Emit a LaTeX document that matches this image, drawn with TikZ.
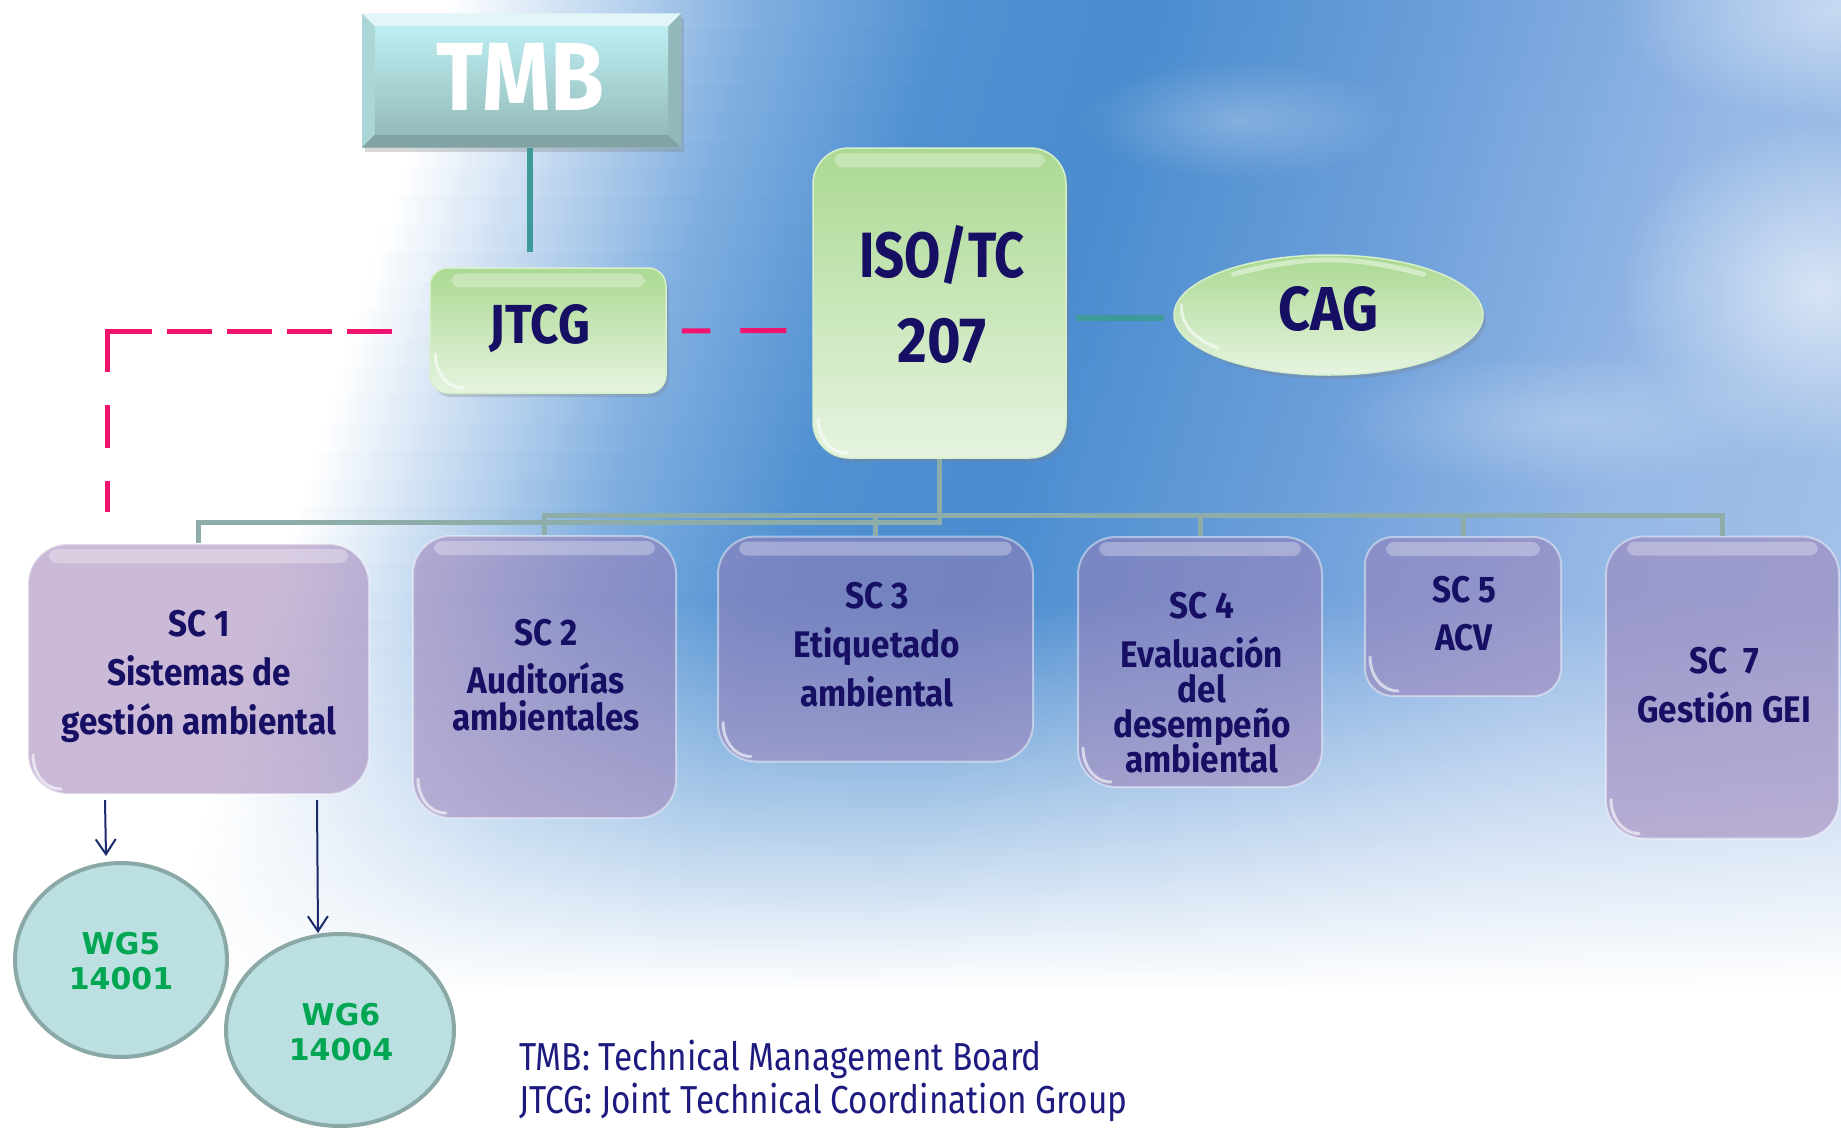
\documentclass[tikz,border=0pt]{standalone}
\usepackage{fontspec}
\newfontfamily\hfont[FakeStretch=0.9]{Fira Sans}
\newfontfamily\hfontn[FakeStretch=0.82]{Fira Sans}
\newfontfamily\lfont[FakeStretch=0.855]{Fira Sans}
\newfontfamily\wfont{DejaVu Sans}
\usetikzlibrary{shapes.geometric,arrows.meta,shadows,fadings,calc}

\definecolor{navy}{HTML}{170F63}
\definecolor{skyA}{HTML}{C4D9F0}
\definecolor{skyB}{HTML}{80AFE0}
\definecolor{skyC}{HTML}{5191D2}
\definecolor{skyD}{HTML}{4A8CCF}
\definecolor{skyE}{HTML}{6C9FDA}
\definecolor{skyF}{HTML}{94B7E5}
\definecolor{skyG}{HTML}{B5CCEC}
\definecolor{gTop}{HTML}{ABD992}
\definecolor{gBot}{HTML}{E6F4E0}
\definecolor{gLine}{HTML}{D8EFCC}
\definecolor{scfill}{HTML}{9A7BB4}
\definecolor{treeC}{HTML}{8EADA8}
\definecolor{tealC}{HTML}{3E999A}
\definecolor{pinkC}{HTML}{F2136E}
\definecolor{arrC}{HTML}{1B2A6B}
\definecolor{wgFill}{HTML}{BCE0E2}
\definecolor{wgLine}{HTML}{8AA8A6}
\definecolor{wgText}{HTML}{00A651}
\definecolor{legC}{HTML}{1E1B80}
\definecolor{tmbTop}{HTML}{BDEEF2}
\definecolor{tmbBot}{HTML}{95BBBB}
\definecolor{bevT}{HTML}{E2F6F7}
\definecolor{bevL}{HTML}{ACD5D7}
\definecolor{bevR}{HTML}{93B8B9}
\definecolor{bevB}{HTML}{83A2A3}

\pgfdeclarehorizontalshading{skyh}{100bp}{color(0bp)=(white); color(36.3bp)=(white); color(39.3bp)=(skyA); color(42.6bp)=(skyB); color(46.5bp)=(skyC); color(50.6bp)=(skyD); color(56.8bp)=(skyE); color(62.9bp)=(skyF); color(75bp)=(skyG); color(100bp)=(skyG)}
\tikzfading[name=fadebot, top color=transparent!100, bottom color=transparent!0]
\tikzfading[name=blob, inner color=transparent!15, outer color=transparent!100]

\newcommand{\stk}[2]{\parbox[t]{#1}{\centering\lineskiplimit=-60pt #2}}

\tikzset{
  hd/.style={inner sep=0pt, anchor=base, text=navy, font=\hfont\bfseries\fontsize{#1}{#1}\selectfont},
  sclbl/.style={inner sep=0pt, anchor=base, text=navy, font=\hfont\bfseries\fontsize{37}{#1}\selectfont},
  greenbox/.style={draw=gLine, line width=1.5pt, top color=gTop, bottom color=gBot, inner sep=0pt,
     drop shadow={shadow xshift=3pt, shadow yshift=-4pt, opacity=0.3}},
  scbox/.style={fill=scfill, fill opacity=0.52, draw=white, draw opacity=0.45, line width=2pt, inner sep=0pt},
  tree/.style={draw=treeC, line width=5pt},
  tealline/.style={draw=tealC, line width=5.5pt},
  pinkd/.style={draw=pinkC, line width=5pt},
  arr/.style={draw=arrC, line width=2pt, -{Straight Barb[length=15pt, width=20pt]}},
  wg/.style={ellipse, draw=wgLine, line width=4pt, fill=wgFill, inner sep=0pt},
  wgl/.style={inner sep=0pt, anchor=base, text=wgText, font=\wfont\bfseries\fontsize{30}{35}\selectfont},
  gloss/.style={draw=white, opacity=0.6, line width=3pt, line cap=round},
  hilite/.style={fill=white, opacity=0.3, rounded corners=8pt}
}

\begin{document}
\begin{tikzpicture}[x=1pt, y=-1pt]
\useasboundingbox (0,0) rectangle (1841,1127);

% ---------- background sky ----------
\begin{scope}
\clip (0,0) rectangle (1841,1127);
\fill[white] (0,0) rectangle (1841,1127);
\foreach \i in {0,...,39}{
  \pgfmathsetmacro\yy{\i*28.2}
  \pgfmathsetmacro\ss{0.3*(\yy+14)}
  \shade[shading=skyh] ({-100-\ss},\yy) rectangle ({2341-\ss},{\yy+29.5});
}
\fill[white, path fading=blob, fill opacity=0.7] (1820,290) ellipse (200 and 170);
\fill[white, path fading=blob, fill opacity=0.55] (1841,10) ellipse (230 and 110);
\fill[white, path fading=blob, fill opacity=0.3] (1560,420) ellipse (230 and 70);
\fill[white, path fading=blob, fill opacity=0.3] (1240,120) ellipse (160 and 60);
\fill[white, path fading=fadebot] (-40,600) rectangle (1881,990);
\fill[white] (-40,988) rectangle (1881,1160);
\end{scope}

% ---------- boxes ----------
\node[rectangle, minimum width=319pt, minimum height=134pt, fill=bevL, inner sep=0pt,
      drop shadow={shadow xshift=3pt, shadow yshift=-4pt, opacity=0.3}] (tmb) at (521.5,80.5) {};
\fill[bevT] (tmb.north west) -- (tmb.north east) -- ($(tmb.north east)+(-13,13)$) -- ($(tmb.north west)+(13,13)$) -- cycle;
\fill[bevB] (tmb.south west) -- (tmb.south east) -- ($(tmb.south east)+(-13,-13)$) -- ($(tmb.south west)+(13,-13)$) -- cycle;
\fill[bevR] (tmb.north east) -- ($(tmb.north east)+(-13,13)$) -- ($(tmb.south east)+(-13,-13)$) -- (tmb.south east) -- cycle;
\shade[top color=tmbTop, bottom color=tmbBot] ($(tmb.north west)+(13,13)$) rectangle ($(tmb.south east)+(-13,-13)$);

\node[greenbox, rounded corners=18pt, minimum width=236pt, minimum height=125pt] (jtcg) at (548,330.5) {};
\node[greenbox, rounded corners=36pt, minimum width=253pt, minimum height=310pt] (iso) at (939.5,303) {};
\node[greenbox, ellipse, minimum width=309pt, minimum height=120pt] (cag) at (1328.5,315) {};

\node[scbox, rounded corners=40pt, minimum width=341pt, minimum height=250pt] (sc1) at (198.5,669) {};
\node[scbox, rounded corners=38pt, minimum width=263pt, minimum height=282pt] (sc2) at (544.5,677) {};
\node[scbox, rounded corners=38pt, minimum width=315pt, minimum height=225pt] (sc3) at (875.5,649) {};
\node[scbox, rounded corners=38pt, minimum width=244pt, minimum height=250pt] (sc4) at (1200,662) {};
\node[scbox, rounded corners=28pt, minimum width=196pt, minimum height=159pt] (sc5) at (1463,616.5) {};
\node[scbox, rounded corners=38pt, minimum width=233pt, minimum height=302pt] (sc7) at (1722.5,687.5) {};

\foreach \n in {jtcg,iso,sc1,sc2,sc3,sc4,sc5,sc7}{
  \fill[hilite] ($(\n.north west)+(22,6)$) rectangle ($(\n.north east)+(-22,20)$);
  \draw[gloss] ($(\n.south west)+(6,-40)$) to[out=-90,in=180] ($(\n.south west)+(34,-6)$);
}
\draw[gloss] ($(cag.west)+(8,-10)$) to[out=-90,in=160] ($(cag.west)+(45,33)$);
\draw[draw=white, opacity=0.45, line width=5pt, line cap=round] ($(cag.north)+(-95,20)$) to[out=15,in=165] ($(cag.north)+(95,20)$);

\node[wg, minimum width=212pt, minimum height=194pt] (wg5) at (121,960) {};
\node[wg, minimum width=228pt, minimum height=192pt] (wg6) at (340,1030) {};

% ---------- connectors ----------
\draw[tealline] ([xshift=8.5pt]tmb.south) -- ([xshift=-18pt,yshift=15pt]jtcg.north);
\draw[tealline] ($(iso.east |- cag.west)+(9,3)$) -- ($(cag.west)+(-9,3)$);

\coordinate (pk) at (107,331);
\coordinate (pkend) at (107,512);
\draw[pinkd, dash pattern=on 45pt off 15pt] ($(jtcg.west)+(-37,0.5)$) -- (pk);
\draw[pinkd, dash pattern=on 43pt off 33pt] ($(pk)+(0,-2.5)$) -- (pkend);
\draw[pinkd, dash pattern=on 46pt off 30pt] ($(iso.west)+(-26,27.5)$) -- ($(jtcg.east)+(15,0.5)$);

\draw[tree] (iso.south) -- ++(0,64) -| (sc1.north);
\foreach \n in {sc2,sc3,sc4,sc5,sc7}{
  \draw[tree] (iso.south) -- ++(0,57) -| (\n.north);
}

\draw[arr] ($(sc1.south west)+(78,5)$) -- ($(wg5.north)+(-15,-5)$);
\draw[arr] ($(sc1.south west)+(290,5)$) -- ($(wg6.north)+(-22,1)$);

% ---------- texts ----------
\node[hd=97, text=white] (tmbt) at (520.5,110) {TMB};
\node[hd=55] (jtcgt) at (540,343) {JTCG};
\node[inner sep=0pt, anchor=base, text=navy, font=\hfont\bfseries\fontsize{64}{85}\selectfont] (isot) at (942,277) {\stk{240pt}{{\hfontn ISO/TC}\\207}};
\node[hd=62] (cagt) at (1328.5,330) {CAG};

\node[sclbl=49] (sc1t) at (199,636) {\stk{330pt}{SC 1\\Sistemas de\\gestión ambiental}};
\node[sclbl=37] (sc2t) at (546,645) {\stk{250pt}{SC 2\\[11pt]Auditorías\\ambientales}};
\node[sclbl=49] (sc3t) at (877,608) {\stk{300pt}{SC 3\\Etiquetado\\ambiental}};
\node[sclbl=35] (sc4t) at (1202,618) {\stk{240pt}{SC 4\\[14pt]Evaluación\\del\\desempeño\\ambiental}};
\node[sclbl=48] (sc5t) at (1464,602) {\stk{190pt}{SC 5\\ACV}};
\node[sclbl=49] (sc7t) at (1724,673) {\stk{230pt}{SC\ \ 7\\Gestión GEI}};

\node[wgl] (wg5t) at (121,954) {\stk{180pt}{WG5\\14001}};
\node[wgl] (wg6t) at (341,1025) {\stk{180pt}{WG6\\14004}};

\node[inner sep=0pt, anchor=base west, text=legC, font=\lfont\fontsize{39}{43}\selectfont] (legend) at (519,1070)
  {\parbox[t]{760pt}{\raggedright\lineskiplimit=-60pt TMB: Technical Management Board\\JTCG: Joint Technical Coordination Group}};
\end{tikzpicture}
\end{document}
